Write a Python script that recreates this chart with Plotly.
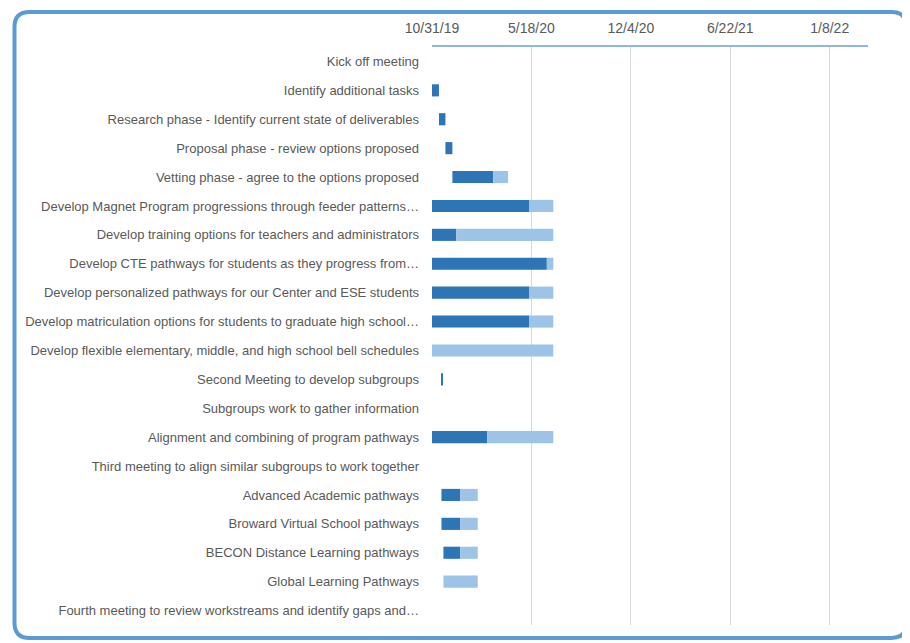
import plotly.graph_objects as go
import pandas as pd

tasks = [
    "Kick off meeting",
    "Identify additional tasks",
    "Research phase - Identify current state of deliverables",
    "Proposal phase - review options proposed",
    "Vetting phase - agree to the options proposed",
    "Develop Magnet Program progressions through feeder patterns…",
    "Develop training options for teachers and administrators",
    "Develop CTE pathways for students as they progress from…",
    "Develop personalized pathways for our Center and ESE students",
    "Develop matriculation options for students to graduate high school…",
    "Develop flexible elementary, middle, and high school bell schedules",
    "Second Meeting to develop subgroups",
    "Subgroups work to gather information",
    "Alignment and combining of program pathways",
    "Third meeting to align similar subgroups to work together",
    "Advanced Academic pathways",
    "Broward Virtual School pathways",
    "BECON Distance Learning pathways",
    "Global Learning Pathways",
    "Fourth meeting to review workstreams and identify gaps and…",
]
start_dates = [
    "2019-10-31", "2019-10-31", "2019-11-14", "2019-11-27", "2019-12-11",
    "2019-10-31", "2019-10-31", "2019-10-31", "2019-10-31", "2019-10-31",
    "2019-10-31", "2019-11-20", "2019-10-31", "2019-10-31", "2019-10-31",
    "2019-11-19", "2019-11-19", "2019-11-23", "2019-11-23", "2019-10-31",
]
days_done = [0, 14, 13, 14, 82, 196, 49, 231, 196, 196, 0, 2, 0, 111, 0, 38, 38, 34, 0, 0]
days_left = [0, 0, 0, 0, 30, 48, 195, 13, 48, 48, 244, 0, 0, 133, 0, 35, 35, 35, 69, 0]

DAY_MS = 86400000
starts = pd.to_datetime(start_dates)
done_x = [d * DAY_MS if d > 0 else None for d in days_done]
left_base = [(s + pd.Timedelta(days=d)).strftime("%Y-%m-%d") for s, d in zip(starts, days_done)]
left_x = [d * DAY_MS if d > 0 else None for d in days_left]

fig = go.Figure()
fig.add_trace(go.Bar(
    y=tasks, x=done_x, base=[s.strftime("%Y-%m-%d") for s in starts],
    orientation="h", marker=dict(color="#2E75B6", line=dict(width=0)),
    name="Completed", hoverinfo="skip",
))
fig.add_trace(go.Bar(
    y=tasks, x=left_x, base=left_base,
    orientation="h", marker=dict(color="#9DC3E6", line=dict(width=0)),
    name="Remaining", hoverinfo="skip",
))

# page has an 8px body margin; figure coordinates = page coordinates - 8
OFF = 8
W, H = 910 - OFF, 643 - OFF
L, R, T, B = 432 - OFF, 42, 45 - OFF, 18
pw, ph = W - L - R, H - T - B

def px(x):
    return (x - OFF - L) / pw

def py(y):
    return (H - B - (y - OFF)) / ph

# rounded border (page coordinates)
x0, y0, x1, y1, r = 14.5, 10, 906.5, 638, 15
pts = [
    ("M", x0 + r, y0), ("L", x1 - r, y0), ("Q", x1, y0, x1, y0 + r),
    ("L", x1, y1 - r), ("Q", x1, y1, x1 - r, y1), ("L", x0 + r, y1),
    ("Q", x0, y1, x0, y1 - r), ("L", x0, y0 + r), ("Q", x0, y0, x0 + r, y0),
]
path = ""
for p in pts:
    if p[0] == "Q":
        path += f"Q {px(p[1]):.5f},{py(p[2]):.5f} {px(p[3]):.5f},{py(p[4]):.5f} "
    else:
        path += f"{p[0]} {px(p[1]):.5f},{py(p[2]):.5f} "
path += "Z"
fig.add_shape(type="path", path=path, xref="paper", yref="paper",
              line=dict(color="#5B9BD5", width=4), layer="above")

fig.update_layout(
    width=W, height=H,
    margin=dict(l=L, r=R, t=T, b=B),
    paper_bgcolor="white", plot_bgcolor="white",
    barmode="overlay", bargap=0.58, showlegend=False,
    font=dict(family="Liberation Sans", size=13, color="#595959"),
)
fig.update_xaxes(
    type="date", side="top", range=["2019-10-31", "2022-03-26"],
    tick0="2019-10-31", dtick=200 * DAY_MS, tickformat="%-m/%-d/%y",
    showgrid=True, gridcolor="#D9D9D9", gridwidth=1,
    showline=True, linecolor="#8DB8E2", linewidth=1.5,
    ticks="", ticklabelstandoff=7, tickfont=dict(size=14, color="#595959"),
    zeroline=False,
)
fig.update_yaxes(
    autorange="reversed", showgrid=False, showline=False, ticks="",
    ticklabelstandoff=12, tickfont=dict(size=13, color="#595959"),
    categoryorder="array", categoryarray=tasks,
)

fig.write_html("out.html")
